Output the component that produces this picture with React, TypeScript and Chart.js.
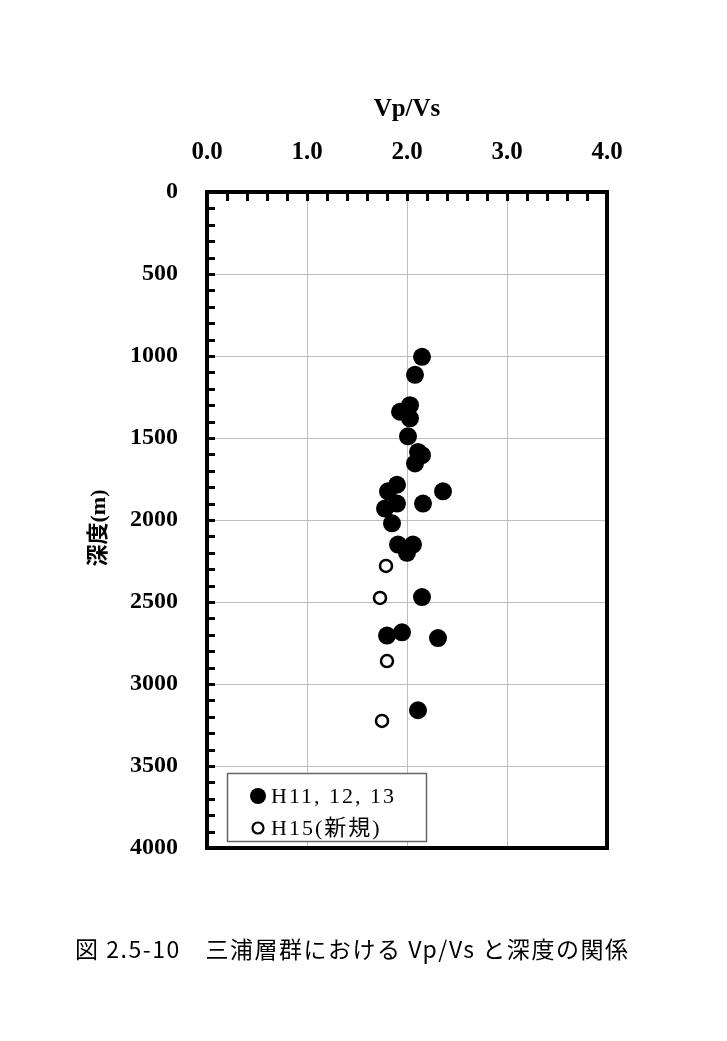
import React, { useEffect, useRef } from "react";
import { Chart, registerables } from "chart.js";

Chart.register(...registerables);

// Series H11, 12, 13 (filled circles)
const filledVpVs = [2.15, 2.08, 2.03, 1.93, 2.03, 2.01, 2.11, 2.15, 2.08, 1.90, 1.81, 2.36, 1.90, 2.16, 1.78, 1.85, 1.91, 2.06, 2.00, 2.15, 1.80, 1.95, 2.31, 2.11];
const filledDepth = [1005, 1115, 1300, 1340, 1380, 1490, 1585, 1605, 1655, 1785, 1825, 1825, 1900, 1900, 1930, 2020, 2150, 2150, 2200, 2470, 2705, 2685, 2720, 3160];
// Series H15 (open circles)
const openVpVs = [1.79, 1.73, 1.80, 1.75];
const openDepth = [2280, 2475, 2860, 3225];

const seriesLabels = ["H11, 12, 13", "H15(新規)"];
const xTitle = "Vp/Vs";
const yTitle = "深度(m)";
const caption = "図 2.5-10　三浦層群における Vp/Vs と深度の関係";
const xMin = 0, xMax = 4, xStep = 1, xMinorStep = 0.2;
const yMin = 0, yMax = 4000, yStep = 500, yMinorStep = 100;

const SERIF = '"Liberation Serif", "Times New Roman", serif';

export default function App() {
  const ref = useRef<HTMLCanvasElement | null>(null);
  useEffect(() => {
    const canvas = ref.current;
    if (!canvas) return;

    const decor = {
      id: "decor",
      beforeDatasetsDraw(chart: any) {
        const { ctx, chartArea: a, scales } = chart;
        const xs = scales.x, ys = scales.y;
        ctx.save();
        ctx.strokeStyle = "#000";
        ctx.lineWidth = 3;
        for (let v = xMin + xMinorStep; v < xMax - 1e-6; v += xMinorStep) {
          const px = Math.round(xs.getPixelForValue(v)) + 0.5;
          ctx.beginPath();
          ctx.moveTo(px, a.top);
          ctx.lineTo(px, a.top + 9);
          ctx.stroke();
        }
        for (let v = yMin + yMinorStep; v < yMax - 1e-6; v += yMinorStep) {
          const py = Math.round(ys.getPixelForValue(v)) + 0.5;
          ctx.beginPath();
          ctx.moveTo(a.left, py);
          ctx.lineTo(a.left + 8, py);
          ctx.stroke();
        }
        ctx.restore();
      },
      afterDraw(chart: any) {
        const { ctx, chartArea: a } = chart;
        ctx.save();
        ctx.strokeStyle = "#000";
        ctx.lineWidth = 4;
        ctx.strokeRect(a.left, a.top, a.right - a.left, a.bottom - a.top);

        // legend box
        const lx = 227, ly = 773, lw = 199, lh = 68;
        ctx.fillStyle = "#fff";
        ctx.fillRect(lx, ly, lw, lh);
        ctx.strokeStyle = "#666";
        ctx.lineWidth = 1.5;
        ctx.strokeRect(lx + 0.5, ly + 0.5, lw, lh);
        ctx.fillStyle = "#000";
        ctx.beginPath();
        ctx.arc(258, 796, 8, 0, Math.PI * 2);
        ctx.fill();
        ctx.strokeStyle = "#000";
        ctx.lineWidth = 2.2;
        ctx.beginPath();
        ctx.arc(258, 828, 5.5, 0, Math.PI * 2);
        ctx.stroke();
        ctx.fillStyle = "#000";
        ctx.textBaseline = "middle";
        ctx.textAlign = "left";
        ctx.font = '22px "Liberation Serif", "Noto Sans CJK JP", serif';
        (ctx as any).letterSpacing = "2px";
        ctx.fillText(seriesLabels[0], 271, 797);
        ctx.fillText(seriesLabels[1], 271, 829);
        (ctx as any).letterSpacing = "0px";

        // axis titles
        ctx.font = `bold 25px ${SERIF}`;
        ctx.textAlign = "center";
        ctx.textBaseline = "middle";
        ctx.fillText(xTitle, (a.left + a.right) / 2, 110);
        ctx.save();
        ctx.translate(99, 528);
        ctx.rotate(-Math.PI / 2);
        ctx.font = 'bold 22px "Liberation Serif", "Noto Sans CJK JP", serif';
        ctx.fillText(yTitle, 0, 0);
        ctx.restore();

        // caption
        ctx.font = '23px "Noto Sans CJK JP", sans-serif';
        ctx.textAlign = "left";
        const target = 553;
        const w0 = ctx.measureText(caption).width;
        const ls = (target - w0) / (caption.length - 1);
        (ctx as any).letterSpacing = `${ls}px`;
        ctx.fillText(caption, 75, 949);
        (ctx as any).letterSpacing = "0px";
        ctx.restore();
      },
    };

    const chart = new Chart(canvas, {
      type: "scatter",
      data: {
        datasets: [
          {
            label: seriesLabels[0],
            data: filledVpVs.map((x, i) => ({ x, y: filledDepth[i] })),
            pointRadius: 9,
            pointBackgroundColor: "#000",
            pointBorderColor: "#000",
            pointBorderWidth: 0,
          },
          {
            label: seriesLabels[1],
            data: openVpVs.map((x, i) => ({ x, y: openDepth[i] })),
            pointRadius: 6,
            pointBackgroundColor: "#fff",
            pointBorderColor: "#000",
            pointBorderWidth: 2.5,
          },
        ],
      },
      options: {
        animation: false,
        responsive: false,
        layout: { padding: { left: 0, top: 0, right: 120, bottom: 193 } },
        plugins: { legend: { display: false }, tooltip: { enabled: false }, title: { display: false } },
        scales: {
          x: {
            type: "linear",
            position: "top",
            min: xMin,
            max: xMax,
            afterFit: (s: any) => { s.height = 192; },
            ticks: {
              stepSize: xStep,
              padding: 24,
              color: "#000",
              font: { family: SERIF, size: 25, weight: "bold" },
              callback: (v: any) => Number(v).toFixed(1),
              maxRotation: 0,
            },
            grid: { color: "#bdbdbd", lineWidth: 1, drawTicks: false },
            border: { display: false },
          },
          y: {
            type: "linear",
            reverse: true,
            min: yMin,
            max: yMax,
            afterFit: (s: any) => { s.width = 207; },
            ticks: {
              stepSize: yStep,
              padding: 29,
              color: "#000",
              font: { family: SERIF, size: 24, weight: "bold" },
              callback: (v: any) => String(v),
            },
            grid: { color: "#bdbdbd", lineWidth: 1, drawTicks: false },
            border: { display: false },
          },
        },
      },
      plugins: [decor],
    });
    return () => chart.destroy();
  }, []);

  return (
    <div style={{ position: "absolute", left: 0, top: 0, width: 727, height: 1041, background: "#fff" }}>
      <canvas ref={ref} width={727} height={1041} style={{ display: "block" }} />
    </div>
  );
}
